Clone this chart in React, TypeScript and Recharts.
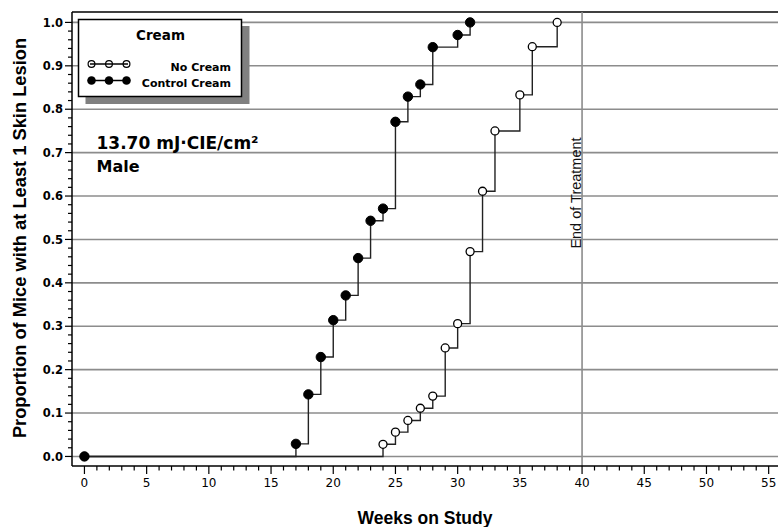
import { LineChart, Line, XAxis, YAxis, ReferenceLine } from 'recharts'

// Kaplan-Meier style cumulative proportions
const noCreamWeeks = [0, 24, 25, 26, 27, 28, 29, 30, 31, 32, 33, 35, 36, 38]
const noCreamProp = [0, 0.028, 0.056, 0.083, 0.111, 0.139, 0.25, 0.306, 0.472, 0.611, 0.75, 0.833, 0.944, 1.0]
const controlWeeks = [0, 17, 18, 19, 20, 21, 22, 23, 24, 25, 26, 27, 28, 30, 31]
const controlProp = [0, 0.029, 0.143, 0.229, 0.314, 0.371, 0.457, 0.543, 0.571, 0.771, 0.829, 0.857, 0.943, 0.971, 1.0]

const xTicks = Array.from({ length: 56 }, (_, i) => i)
const yTicks = Array.from({ length: 51 }, (_, i) => (i * 2) / 100)
const yGrid = [0, 0.1, 0.2, 0.3, 0.4, 0.5, 0.6, 0.7, 0.8, 0.9, 1.0]
const endOfTreatment = 40

const xDomain = [-1, 55.75]
const yDomain = [-0.022, 1.024]

const noCream = noCreamWeeks.map((w, i) => ({ week: w, p: noCreamProp[i] }))
const control = controlWeeks.map((w, i) => ({ week: w, p: controlProp[i] }))

const tickFont = '"DejaVu Sans", Verdana, sans-serif'
const titleFont = '"Liberation Sans", Arial, sans-serif'

const XTick = (props: any) => {
  const { x, y, payload } = props
  const v = payload.value
  const major = v % 5 === 0
  return (
    <g>
      <line x1={x} x2={x} y1={y} y2={y + (major ? 8 : 4.5)} stroke='#000' strokeWidth={1.2} />
      {major && (
        <text x={x} y={y + 21} textAnchor='middle' fontSize={12} fontFamily={tickFont} fill='#000'>
          {v}
        </text>
      )}
    </g>
  )
}

const YTick = (props: any) => {
  const { x, y, payload } = props
  const v = payload.value
  const major = Math.round(v * 100) % 10 === 0
  return (
    <g>
      <line x1={x} x2={x - (major ? 7 : 4)} y1={y} y2={y} stroke='#000' strokeWidth={1.2} />
      {major && (
        <text x={x - 9} y={y + 4.2} textAnchor='end' fontSize={11.5} fontWeight='bold' fontFamily={tickFont} fill='#000'>
          {v.toFixed(1)}
        </text>
      )}
    </g>
  )
}

const EndLabel = (props: any) => {
  const vb = props.viewBox || {}
  const x = vb.x - 1.5
  const y = vb.y + 181
  return (
    <text x={x} y={y} transform={`rotate(-90, ${x}, ${y})`} textAnchor='middle' fontSize={14.5} fontFamily={titleFont} fill='#111'>
      End of Treatment
    </text>
  )
}

export default function App() {
  return (
    <div style={{ position: 'fixed', left: 0, top: 0, width: 778, height: 527, background: '#fff' }}>
      <LineChart width={778} height={527} margin={{ top: 12, right: 0, bottom: 0, left: 0 }}>
        <XAxis
          type='number'
          dataKey='week'
          domain={xDomain}
          ticks={xTicks}
          interval={0}
          tickSize={0}
          tickMargin={0}
          tickLine={false}
          tick={<XTick />}
          axisLine={{ stroke: '#000', strokeWidth: 1.5 }}
          height={61}
          allowDataOverflow
        />
        <YAxis
          type='number'
          dataKey='p'
          domain={yDomain}
          ticks={yTicks}
          interval={0}
          tickSize={0}
          tickMargin={0}
          tickLine={false}
          tick={<YTick />}
          axisLine={{ stroke: '#000', strokeWidth: 1.5 }}
          width={72}
          allowDataOverflow
        />
        {yGrid.map(v => (
          <ReferenceLine key={v} y={v} stroke='#8c8c8c' strokeWidth={1.6} />
        ))}
        <ReferenceLine y={yDomain[1]} stroke='#000' strokeWidth={1.5} />
        <ReferenceLine x={endOfTreatment} stroke='#8c8c8c' strokeWidth={1.6} label={<EndLabel />} />
        <Line
          data={noCream}
          dataKey='p'
          type='stepAfter'
          stroke='none'
          dot={{ r: 4, fill: '#fff', stroke: '#000', strokeWidth: 1.3 }}
          isAnimationActive={false}
        />
        <Line data={noCream} dataKey='p' type='stepAfter' stroke='#222' strokeWidth={1.4} dot={false} isAnimationActive={false} />
        <Line
          data={control}
          dataKey='p'
          type='stepAfter'
          stroke='#222'
          strokeWidth={1.4}
          dot={{ r: 4.7, fill: '#000', stroke: '#000', strokeWidth: 1 }}
          isAnimationActive={false}
        />
      </LineChart>
      <svg width={778} height={527} style={{ position: 'absolute', left: 0, top: 0, pointerEvents: 'none' }}>
        {/* legend */}
        <rect x={85.5} y={26} width={164} height={78} fill='#808080' />
        <rect x={78.5} y={19.5} width={163} height={77} fill='#fff' stroke='#000' strokeWidth={1.5} />
        <text x={160.5} y={40} textAnchor='middle' fontSize={13.5} fontWeight='bold' fontFamily={tickFont}>Cream</text>
        {[91.5, 109, 126.5].map(cx => (
          <circle key={cx} cx={cx} cy={64} r={3.4} fill='#fff' stroke='#000' strokeWidth={1.2} />
        ))}
        <line x1={90} x2={128} y1={64} y2={64} stroke='#000' strokeWidth={1.3} />
        <text x={231} y={70.5} textAnchor='end' fontSize={11} fontWeight='bold' fontFamily={tickFont}>No Cream</text>
        <line x1={90} x2={128} y1={80.5} y2={80.5} stroke='#000' strokeWidth={1.3} />
        {[91.5, 109, 126.5].map(cx => (
          <circle key={cx} cx={cx} cy={80.5} r={4.3} fill='#000' />
        ))}
        <text x={231} y={86.5} textAnchor='end' fontSize={11} fontWeight='bold' fontFamily={tickFont}>Control Cream</text>

        {/* dose annotation */}
        <text x={96.5} y={148.5} fontSize={17} fontWeight='bold' fontFamily={tickFont}>13.70 mJ·CIE/cm²</text>
        <text x={96.5} y={171.5} fontSize={16} fontWeight='bold' fontFamily={tickFont}>Male</text>

        {/* axis titles */}
        <text x={425} y={524} textAnchor='middle' fontSize={17.5} fontWeight='bold' fontFamily={titleFont}>Weeks on Study</text>
        <text x={25.5} y={238} transform='rotate(-90, 25.5, 238)' textAnchor='middle' fontSize={18.3} fontWeight='bold' fontFamily={titleFont}>
          Proportion of Mice with at Least 1 Skin Lesion
        </text>
      </svg>
    </div>
  )
}
